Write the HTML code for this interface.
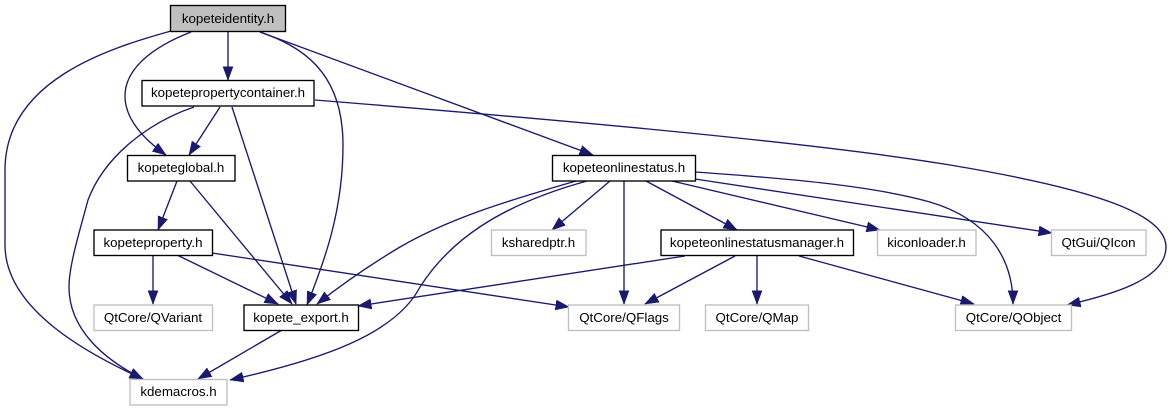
<!DOCTYPE html>
<html><head><meta charset="utf-8"><style>
html,body{margin:0;padding:0;background:#fff;width:1172px;height:411px;overflow:hidden}
svg{display:block}
text{font-family:"Liberation Sans",sans-serif;font-size:13.33px;text-anchor:middle;fill:#000}
.e path{fill:none;stroke:#191970;stroke-width:1.35;marker-end:url(#a)}
.b rect{fill:#fff;stroke:#000;stroke-width:1.35}
.g rect{fill:#fff;stroke:#bfbfbf;stroke-width:1.35}
</style></head><body>
<svg width="1172" height="411" viewBox="0 0 1172 411" xmlns="http://www.w3.org/2000/svg">
<defs><marker id="a" markerUnits="userSpaceOnUse" markerWidth="15" markerHeight="12" refX="13.5" refY="5.5" orient="auto"><path d="M0,.5L13.5,5.5L0,10.5Z" fill="#191970" stroke="#191970" stroke-width=".6"/></marker></defs>
<g class="e">
<path d="M171,31C110,48 5,80 5,170L5,245C5,310 90,355 143,379"/>
<path d="M191,32C150,48 125,70 125,96C125,120 145,140 166,155"/>
<path d="M228,32L228,80"/>
<path d="M260,32C300,46 343,70 343,145C343,210 325,260 307,305"/>
<path d="M260,32L593,155"/>
<path d="M220,107L189,155"/>
<path d="M194,107C150,122 105,155 88,200C80,230 69,265 69,287C69,330 105,360 143,379"/>
<path d="M232,107L296,304"/>
<path d="M315,100C500,115 800,140 950,165C1100,190 1166,215 1166,247C1166,280 1110,295 1067,305"/>
<path d="M177,181L158,230"/>
<path d="M190,181L292,304"/>
<path d="M153,255L153,304"/>
<path d="M177,255L278,304"/>
<path d="M212,253L569,307"/>
<path d="M282,330L198,379"/>
<path d="M576,181C510,200 450,218 400,247C370,265 345,282 317,304"/>
<path d="M587,181C500,205 450,240 420,287C395,335 320,360 230,380"/>
<path d="M610,181L552,230"/>
<path d="M624,181L624,304"/>
<path d="M646,181L737,230"/>
<path d="M672,181L880,230"/>
<path d="M695,179L1052,233"/>
<path d="M695,172C780,178 870,185 930,202C990,220 1013,260 1013,304"/>
<path d="M685,256L358,306"/>
<path d="M735,256L645,304"/>
<path d="M757,256L757,304"/>
<path d="M799,256L974,304"/>
</g>
<g class="b">
<rect x="170.5" y="5.5" width="115" height="26" style="fill:#bfbfbf"/><text x="228" y="23">kopeteidentity.h</text>
<rect x="142" y="80.5" width="172" height="25.5"/><text x="228" y="97">kopetepropertycontainer.h</text>
<rect x="127.5" y="155.5" width="107.5" height="25.5"/><text x="181" y="172">kopeteglobal.h</text>
<rect x="94" y="230" width="118.5" height="25.5"/><text x="153" y="247">kopeteproperty.h</text>
<rect x="244" y="305" width="114.5" height="25.5"/><text x="301" y="322">kopete_export.h</text>
<rect x="552.5" y="155.5" width="143" height="25.5"/><text x="624" y="172">kopeteonlinestatus.h</text>
<rect x="661" y="230" width="192.5" height="25.5"/><text x="757" y="247">kopeteonlinestatusmanager.h</text>
</g>
<g class="g">
<rect x="94" y="305" width="118.5" height="25.5"/><text x="153" y="322">QtCore/QVariant</text>
<rect x="130" y="379.5" width="97" height="25.5"/><text x="178.5" y="396">kdemacros.h</text>
<rect x="491.5" y="230" width="94.5" height="25.5"/><text x="538.5" y="247">ksharedptr.h</text>
<rect x="877.5" y="230" width="98.5" height="25.5"/><text x="926.5" y="247">kiconloader.h</text>
<rect x="1051.5" y="230" width="94.5" height="25.5"/><text x="1098.5" y="247">QtGui/QIcon</text>
<rect x="568.5" y="305" width="111" height="25.5"/><text x="624" y="322">QtCore/QFlags</text>
<rect x="705.5" y="305" width="103" height="25.5"/><text x="757" y="322">QtCore/QMap</text>
<rect x="955.5" y="305" width="116" height="25.5"/><text x="1013.5" y="322">QtCore/QObject</text>
</g>
</svg>
</body></html>
